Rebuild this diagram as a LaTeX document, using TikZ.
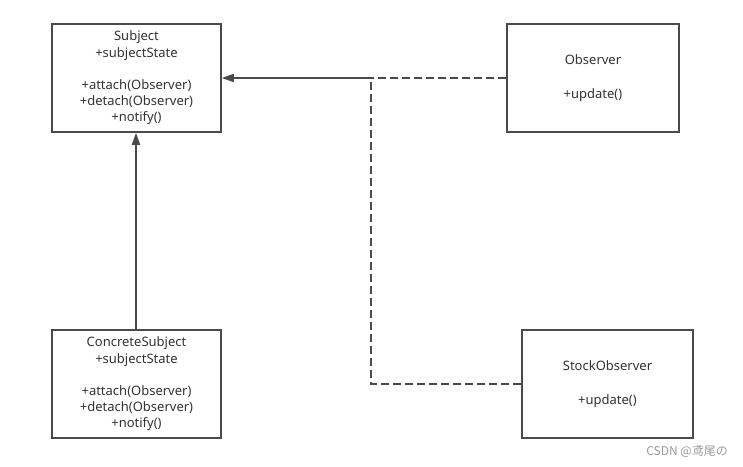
\documentclass[tikz,border=0pt]{standalone}
\usepackage{fontspec}
\setmainfont{Noto Sans}
\newfontfamily\cjkfont{Noto Sans CJK SC}
\usetikzlibrary{arrows.meta}
\definecolor{linegray}{HTML}{4A4A4A}
\definecolor{textgray}{HTML}{333333}
\definecolor{markgray}{HTML}{9A9A9A}
\begin{document}
\begin{tikzpicture}[x=1pt,y=-1pt,
  umlbox/.style={draw=linegray,line width=1.5pt,fill=white,align=center,
    inner sep=0pt,text=textgray,font=\fontsize{13}{16.3}\selectfont},
  dep/.style={draw=linegray,line width=1.5pt,dash pattern=on 8pt off 4pt},
  tip/.style={-{Triangle[length=12pt,width=8pt]}}]
\useasboundingbox[fill=white] (0,0) rectangle (743,466);
\node[umlbox,minimum width=169pt,minimum height=108pt] (subj) at (136.5,78)
  {Subject\\+subjectState\\[16pt]+attach(Observer)\\+detach(Observer)\\+notify()};
\node[umlbox,minimum width=169pt,minimum height=108pt] (csub) at (136.5,384)
  {ConcreteSubject\\+subjectState\\[16pt]+attach(Observer)\\+detach(Observer)\\+notify()};
\node[umlbox,minimum width=172pt,minimum height=108pt] (obs) at (593,78)
  {Observer\\[17pt]+update()};
\node[umlbox,minimum width=171pt,minimum height=108pt] (sobs) at (607.5,384)
  {StockObserver\\[17pt]+update()};
\coordinate (j) at (371,78);
\draw[dep,tip] (obs.west) -- (subj.east);
\draw[dep] (sobs.west) -| (j);
\draw[draw=linegray,line width=1.5pt] (j) -- ([xshift=10pt]subj.east);
\draw[draw=linegray,line width=1.8pt,tip] ([xshift=-0.5pt]csub.north) -- ([xshift=-0.5pt]subj.south);
\node[anchor=east,text=markgray,font=\cjkfont\fontsize{12}{14}\selectfont,inner sep=0pt] (wm) at (728,451) {CSDN @鸢尾の};
\end{tikzpicture}
\end{document}
